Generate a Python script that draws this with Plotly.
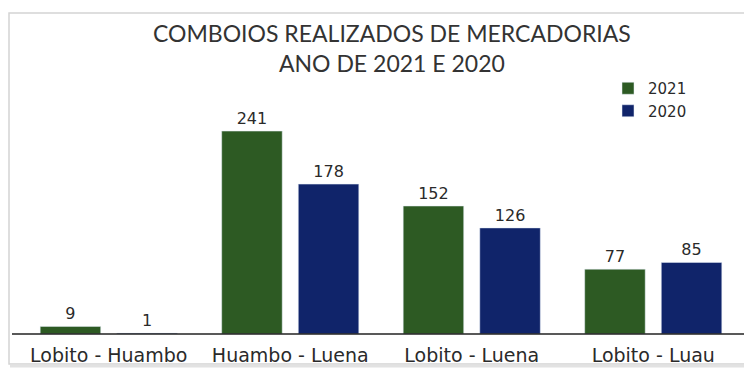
import plotly.graph_objects as go

# Freight trains run per route, 2021 vs 2020
routes = ["Lobito - Huambo", "Huambo - Luena", "Lobito - Luena", "Lobito - Luau"]
trains_2021 = [9, 241, 152, 77]
trains_2020 = [1, 178, 126, 85]

GREEN = "#2d5a23"
NAVY = "#10246a"
TEXT = "#2a2a2a"

W, H = 744, 376
L, R, T, B = 18, 0, 60, 42
plot_w = W - L - R
plot_h = H - T - B


def px_x(p):
    return (p - L) / plot_w


def px_y(p):
    return (H - B - p) / plot_h


fig = go.Figure()
for name, vals, col in (("2021", trains_2021, GREEN), ("2020", trains_2020, NAVY)):
    fig.add_trace(go.Bar(
        name=name, x=routes, y=vals, marker_color=col,
        text=vals, textposition="outside",
        textfont=dict(family="DejaVu Sans", size=16, color=TEXT),
        cliponaxis=False,
    ))

# chart frame, bottom shadow and baseline
fig.add_shape(type="rect", xref="paper", yref="paper",
              x0=px_x(9), x1=px_x(770), y0=px_y(364), y1=px_y(13),
              line=dict(color="#d4d4d4", width=1.5), fillcolor="rgba(0,0,0,0)", layer="below")
fig.add_shape(type="line", xref="paper", yref="paper",
              x0=px_x(10), x1=px_x(770), y0=px_y(366), y1=px_y(366),
              line=dict(color="#e2e2e2", width=3), layer="below")
fig.add_shape(type="line", xref="paper", yref="paper",
              x0=px_x(12), x1=px_x(760), y0=0, y1=0,
              line=dict(color="#222222", width=1.5))

fig.add_annotation(
    text="COMBOIOS REALIZADOS DE MERCADORIAS<br>ANO DE 2021 E 2020",
    xref="paper", yref="paper", x=px_x(392), y=px_y(48),
    xanchor="center", yanchor="middle", showarrow=False,
    font=dict(family="Lato", size=23, color="#333333"),
)

fig.update_layout(
    width=W, height=H,
    margin=dict(l=L, r=R, t=T, b=B),
    paper_bgcolor="white", plot_bgcolor="white",
    barmode="group", bargap=0.156, bargroupgap=0.21,
    showlegend=True,
    legend=dict(x=px_x(608), y=px_y(72), xanchor="left", yanchor="top",
                font=dict(family="DejaVu Sans", size=15, color=TEXT),
                bgcolor="rgba(0,0,0,0)", tracegroupgap=0, itemwidth=30),
    xaxis=dict(showgrid=False, showline=False, ticks="", ticklabelstandoff=8,
               tickfont=dict(family="DejaVu Sans", size=19, color=TEXT)),
    yaxis=dict(range=[0, plot_h / 0.842], visible=False, showgrid=False),
)

fig.write_html("out.html")
